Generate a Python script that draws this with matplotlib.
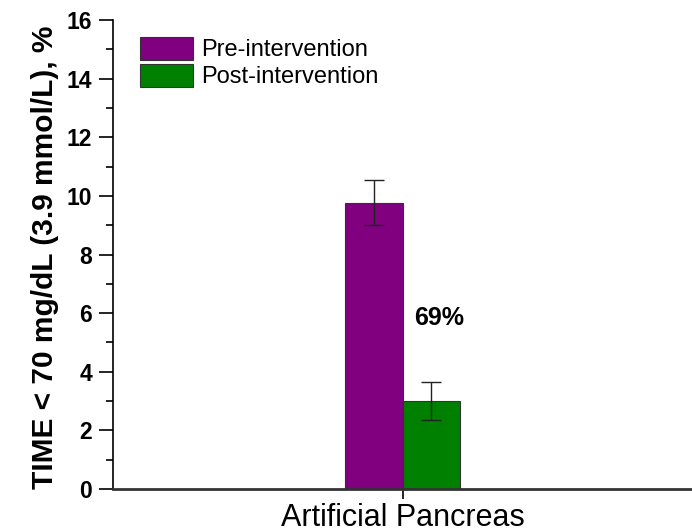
import matplotlib
matplotlib.use("Agg")
import matplotlib.pyplot as plt
from matplotlib.ticker import MultipleLocator

# Data
categories = ["Artificial Pancreas"]
series = ["Pre-intervention", "Post-intervention"]
values = [9.77, 3.0]
errors = [0.78, 0.64]
colors = ["#800080", "#008000"]
reduction_label = "69%"

plt.rcParams["font.family"] = ["Liberation Sans", "DejaVu Sans"]

fig = plt.figure(figsize=(6.92, 5.32), dpi=100)
ax = fig.add_axes([113 / 692, 43 / 532, 579 / 692, 469 / 532])

width = 0.1
offsets = [-width / 2, width / 2]
for name, val, err, col, off in zip(series, values, errors, colors, offsets):
    ax.bar(off, val, width, yerr=err, color=col, edgecolor="#333333", linewidth=0.8,
           label=name, error_kw=dict(ecolor="#222222", elinewidth=1, capsize=7, capthick=1))

ax.text(0.064, 5.84, reduction_label, ha="center", va="center", fontsize=18, fontweight="bold")

ax.set_xlim(-0.5, 0.5)
ax.set_ylim(0, 16)
ax.set_xticks([0])
ax.set_xticklabels([""])
ax.set_xlabel(categories[0], fontsize=22)
ax.xaxis.set_label_coords(0.5, -0.030)
ax.set_ylabel("TIME < 70 mg/dL (3.9 mmol/L), %", fontsize=21.5, fontweight="bold")
ax.yaxis.set_label_coords(-0.094, 0.495)
ax.yaxis.set_major_locator(MultipleLocator(2))
ax.yaxis.set_minor_locator(MultipleLocator(1))
ax.tick_params(axis="y", which="major", length=10, width=1.2, labelsize=16.5, pad=5, direction="out")
ax.tick_params(axis="y", which="minor", length=5, width=1.2, direction="out")
ax.tick_params(axis="x", length=7, width=1.2, direction="out")
for lbl in ax.get_yticklabels():
    lbl.set_fontweight("bold")

ax.spines["top"].set_visible(False)
ax.spines["right"].set_visible(False)
ax.spines["left"].set_linewidth(1.2)
ax.spines["bottom"].set_linewidth(2)
ax.spines["bottom"].set_color("#333333")

ax.legend(loc="upper left", bbox_to_anchor=(0.047, 0.964), frameon=False, fontsize=17,
          handlelength=2.25, handleheight=1.1, handletextpad=0.35, labelspacing=0.12,
          borderaxespad=0, borderpad=0)

fig.savefig("out.png", dpi=100)
